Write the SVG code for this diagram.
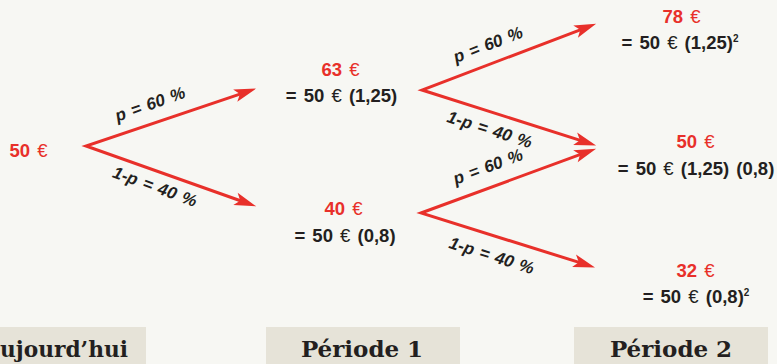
<svg xmlns="http://www.w3.org/2000/svg" width="777" height="364" viewBox="0 0 777 364">
<defs>
<marker id="ah" markerUnits="userSpaceOnUse" markerWidth="24" markerHeight="14" refX="12" refY="6.5" orient="auto-start-reverse" overflow="visible">
<path d="M0,0 L22,6.5 L0,13 L5,6.5 z" fill="#e8302a"/>
</marker>
<style>
.v{font-family:"Liberation Sans",Arial,sans-serif;font-weight:bold;font-size:18.5px;fill:#231f20;text-anchor:middle;word-spacing:2px}
.r{fill:#e8302a}
.eu{font-weight:normal}
.sup{font-size:10px}
.lab{font-family:"Liberation Sans",Arial,sans-serif;font-weight:bold;font-style:italic;font-size:17px;fill:#231f20;text-anchor:middle;word-spacing:1.5px}
.per{font-family:"DejaVu Serif",serif;font-weight:bold;font-size:23px;fill:#231f20;text-anchor:middle}
.box{fill:#e6e3d8}
.c{fill:none;stroke:#e8302a;stroke-width:3;stroke-linejoin:miter;marker-start:url(#ah);marker-end:url(#ah)}
</style>
</defs>
<rect width="777" height="364" fill="#f7f7f3"/>

<g id="connectors">
<path class="c" d="M246.6,91.8 L86,146 L246.8,203.0"/>
<path class="c" d="M586.8,27.3 L422,90 L586.6,142.4"/>
<path class="c" d="M586.7,152.1 L421,213 L585.5,264.4"/>
<text class="lab" transform="translate(152,109.5) rotate(-19.5)">p = 60 %</text>
<text class="lab" transform="translate(153,192) rotate(20)">1-p = 40 %</text>
<text class="lab" transform="translate(490,50) rotate(-21)">p = 60 %</text>
<text class="lab" transform="translate(488,135) rotate(17.5)">1-p = 40 %</text>
<text class="lab" transform="translate(490,172) rotate(-20.5)">p = 60 %</text>
<text class="lab" transform="translate(490,261) rotate(17.5)">1-p = 40 %</text>
</g>

<g id="n0">
<text class="v r" x="28.5" y="157">50 <tspan class="eu">€</tspan></text>
</g>
<g id="n1">
<text class="v r" x="340.5" y="76">63 <tspan class="eu">€</tspan></text>
<text class="v" x="341.5" y="102">= 50 <tspan class="eu">€</tspan> (1,25)</text>
</g>
<g id="n2">
<text class="v r" x="343.5" y="215">40 <tspan class="eu">€</tspan></text>
<text class="v" x="345" y="242">= 50 <tspan class="eu">€</tspan> (0,8)</text>
</g>
<g id="n3">
<text class="v r" x="681.5" y="23">78 <tspan class="eu">€</tspan></text>
<text class="v" x="680" y="49">= 50 <tspan class="eu">€</tspan> (1,25)<tspan class="sup" dy="-7">2</tspan></text>
</g>
<g id="n4">
<text class="v r" x="695.5" y="148">50 <tspan class="eu">€</tspan></text>
<text class="v" x="696" y="175">= 50 <tspan class="eu">€</tspan> (1,25) (0,8)</text>
</g>
<g id="n5">
<text class="v r" x="695.5" y="277">32 <tspan class="eu">€</tspan></text>
<text class="v" x="696" y="303">= 50 <tspan class="eu">€</tspan> (0,8)<tspan class="sup" dy="-7">2</tspan></text>
</g>

<g id="p0">
<rect class="box" x="0" y="327" width="146" height="37"/>
<text class="per" x="0" y="357" style="text-anchor:start" textLength="128" lengthAdjust="spacingAndGlyphs">ujourd’hui</text>
</g>
<g id="p1">
<rect class="box" x="266" y="327" width="194" height="37"/>
<text class="per" x="362" y="357">Période 1</text>
</g>
<g id="p2">
<rect class="box" x="574" y="327" width="194" height="37"/>
<text class="per" x="671" y="357">Période 2</text>
</g>
</svg>
